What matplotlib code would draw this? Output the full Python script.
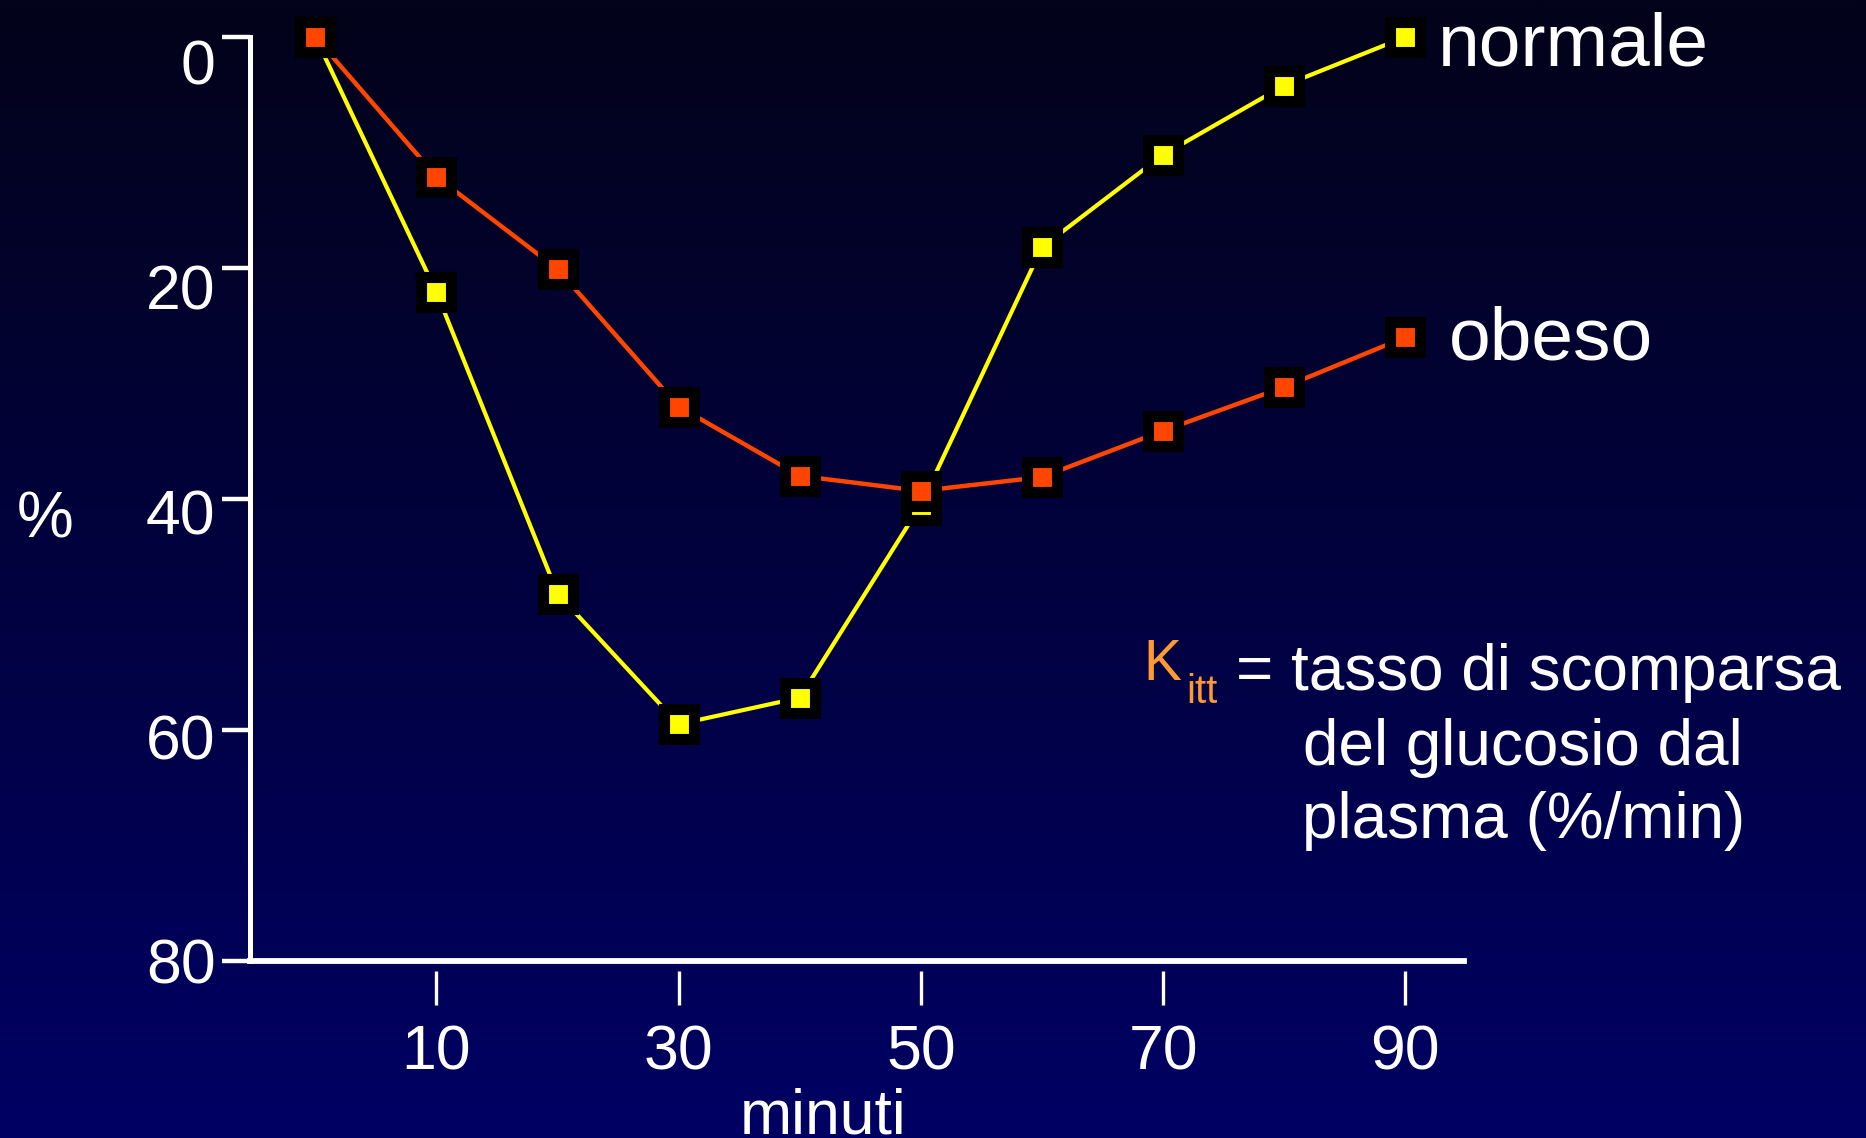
import numpy as np
import matplotlib
matplotlib.use("Agg")
import matplotlib.pyplot as plt

plt.rcParams['font.family'] = ['Liberation Sans', 'DejaVu Sans']

# Glucose decline (%) during the insulin tolerance test
minuti = [0, 10, 20, 30, 40, 50, 60, 70, 80, 90]
normale = [0, 22.1, 48.2, 59.5, 57.2, 40.5, 18.2, 10.2, 4.2, 0]
obeso = [0, 12.1, 20.1, 32.0, 38.0, 39.3, 38.1, 34.1, 30.3, 26.0]

x_ticks = [10, 30, 50, 70, 90]
y_ticks = [0, 20, 40, 60, 80]
series_names = ["normale", "obeso"]

W, H, DPI = 1866, 1138, 100
fig = plt.figure(figsize=(W / DPI, H / DPI), dpi=DPI)


def fx(px):
    return px / W


def fy(py):
    return 1 - py / H


# dark-to-navy vertical gradient background
bg = fig.add_axes([0, 0, 1, 1], zorder=-10)
top = np.array([3, 3, 26]) / 255.0
bot = np.array([0, 0, 100]) / 255.0
t = np.linspace(0, 1, 512)[:, None]
grad = (top[None, :] * (1 - t) + bot[None, :] * t)[:, None, :]
bg.imshow(grad, aspect='auto', extent=[0, 1, 0, 1])
bg.set_axis_off()

rect = [fx(250), fy(961), (1464 - 250) / W, (961 - 37) / H]
ax = fig.add_axes(rect)
ax.set_facecolor('none')
ax.set_xlim(-5.4, 94.85)
ax.set_ylim(80, 0)

for s in ['top', 'right']:
    ax.spines[s].set_visible(False)
ax.spines['left'].set_color('white')
ax.spines['left'].set_linewidth(3.6)
# bottom spine kept invisible but pushed down so the x ticks float below the axis line
ax.spines['bottom'].set_visible(False)
ax.spines['bottom'].set_position(('outward', 7.2))
ax.axhline(80, color='white', lw=4.2, clip_on=False, zorder=2)

ax.set_yticks(y_ticks)
ax.tick_params(axis='y', direction='out', length=20, width=3.2, color='white',
               labelleft=False)
ax.set_xticks(x_ticks)
ax.set_xticklabels([str(v) for v in x_ticks])
ax.tick_params(axis='x', direction='out', length=24.5, width=2.4, color='white',
               labelcolor='white', labelsize=45, pad=13)

# y labels on a slightly compressed scale of their own
lab = fig.add_axes(rect)
lab.set_facecolor('none')
lab.set_ylim(79.67, -2.17)
lab.set_xticks([])
for s in lab.spines.values():
    s.set_visible(False)
lab.set_yticks(y_ticks)
lab.set_yticklabels([str(v) for v in y_ticks])
lab.tick_params(axis='y', length=0, pad=24.8, labelcolor='white', labelsize=45)

mk = dict(marker='s', markersize=22.3, markeredgewidth=8.0,
          markeredgecolor='black', clip_on=False)
ax.plot(minuti, normale, color='#FFFF00', lw=3.0, markerfacecolor='#FFFF00',
        zorder=3, **mk)
ax.plot(minuti, obeso, color='#FF4500', lw=3.2, markerfacecolor='#FF4500',
        zorder=4, **mk)

ax.annotate(series_names[0], xy=(minuti[-1], normale[-1]), xytext=(23.5, -20.2),
            textcoords='offset points', ha='left', va='baseline',
            fontsize=54, color='white', annotation_clip=False)
ax.annotate(series_names[1], xy=(minuti[-1], obeso[-1]), xytext=(31.5, -16.0),
            textcoords='offset points', ha='left', va='baseline',
            fontsize=54, color='white', annotation_clip=False)

fig.text(fx(45), fy(537), "%", ha='center', va='baseline', fontsize=46, color='white')
fig.text(fx(823), fy(1133), "minuti", ha='center', va='baseline', fontsize=45,
         color='white')

# K_itt definition
orange = '#FF9A33'
fig.text(fx(1143), fy(680), "K", ha='left', va='baseline', fontsize=41, color=orange)
fig.text(fx(1186), fy(703), "itt", ha='left', va='baseline', fontsize=29, color=orange)
fig.text(fx(1236), fy(690), "= tasso di scomparsa", ha='left', va='baseline',
         fontsize=46, color='white')
fig.text(fx(1303), fy(765), "del glucosio dal", ha='left', va='baseline',
         fontsize=46, color='white')
fig.text(fx(1302), fy(838), "plasma (%/min)", ha='left', va='baseline',
         fontsize=46, color='white')

fig.savefig("out.png", dpi=DPI)
